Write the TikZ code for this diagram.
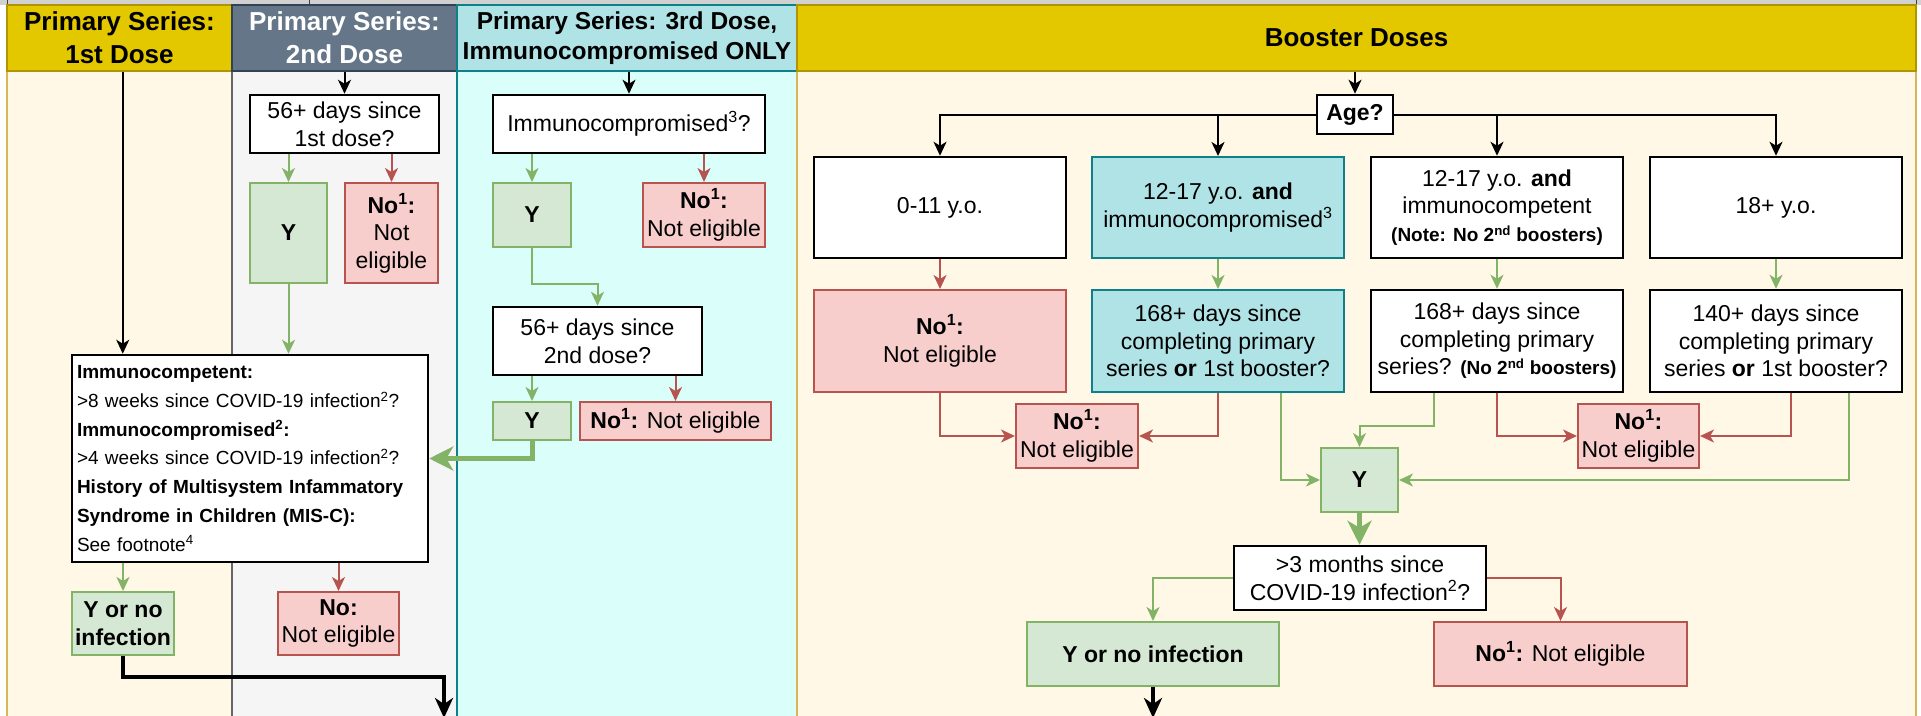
\documentclass[tikz,border=0pt]{standalone}
\usepackage{fontspec}
\setmainfont{Liberation Sans}
\usetikzlibrary{arrows.meta}

\definecolor{hdryel}{HTML}{E3C800}
\definecolor{hdryeld}{HTML}{B09500}
\definecolor{cream}{HTML}{FFF8E7}
\definecolor{creamd}{HTML}{D6B656}
\definecolor{slate}{HTML}{647687}
\definecolor{slated}{HTML}{314354}
\definecolor{greyb}{HTML}{F5F5F5}
\definecolor{teal1}{HTML}{B0E3E6}
\definecolor{teald}{HTML}{0E8088}
\definecolor{cyanb}{HTML}{DAFFFB}
\definecolor{gfill}{HTML}{D5E8D4}
\definecolor{gline}{HTML}{82B366}
\definecolor{rfill}{HTML}{F8CECC}
\definecolor{rline}{HTML}{B85450}
\newcommand\smallnote[1]{{\fontsize{19}{27.6}\selectfont\bfseries #1}}

\begin{document}
\begin{tikzpicture}[x=1pt,y=-1pt,
    every node/.style={inner sep=2pt, align=center, font=\fontsize{23}{27.6}\selectfont},
    sz/.style 2 args={minimum width=#1pt, minimum height=#2pt},
    qbox/.style={draw=black, fill=white, line width=2.5pt},
    ybox/.style={draw=gline, fill=gfill, line width=2pt, font=\fontsize{23}{28}\selectfont\bfseries},
    nbox/.style={draw=rline, fill=rfill, line width=2pt},
    tbox/.style={draw=teald, fill=teal1, line width=2pt},
    hdr/.style={line width=2pt, font=\fontsize{26}{33}\selectfont\bfseries},
    barr/.style={draw=black, line width=2pt, -{Stealth[length=14pt,width=13pt,inset=4pt]}},
    garr/.style={barr, draw=gline},
    rarr/.style={barr, draw=rline},
    gthick/.style={draw=gline, line width=5pt, -{Stealth[length=24pt,width=24pt,inset=7pt]}},
    bthick/.style={draw=black, line width=4pt, -{Stealth[length=20pt,width=18pt,inset=6pt]}}]
    \useasboundingbox (0,0) rectangle (1921,715);
    \fill[white] (0,0) rectangle (1921,715);
    \fill[black!18] (0,0) rectangle (1921,5);
    \draw[black!75, line width=1pt] (7,0) -- (7,5) (309,0) -- (309,5) (1916,0) -- (1916,5);
    % lanes
    \draw[draw=creamd, fill=cream, line width=2pt] (7,71) rectangle (232,740);
    \draw[draw=black!60, fill=greyb, line width=2pt] (232,71) rectangle (457,740);
    \draw[draw=teald, fill=cyanb, line width=2pt] (457,71) rectangle (797,740);
    \draw[draw=creamd, fill=cream, line width=2pt] (797,71) rectangle (1916,740);
    \node[hdr, sz={225}{66}, fill=hdryel, draw=hdryeld] (h1) at (119.5,38) {Primary Series:\\1st Dose};
    \node[hdr, sz={225}{66}, fill=slate, draw=slated, text=white] (h2) at (344.5,38) {Primary Series:\\2nd Dose};
    \node[hdr, sz={340}{66}, fill=teal1, draw=teald, font=\fontsize{24.5}{30}\selectfont\bfseries] (h3) at (627,38) {Primary Series: 3rd Dose,\\Immunocompromised ONLY};
    \node[hdr, sz={1119}{66}, fill=hdryel, draw=hdryeld] (h4) at (1356.5,38) {Booster Doses};

    % primary series
    \node[qbox, sz={356}{207}, text width=346pt, align=left, font=\fontsize{19}{28.7}\selectfont] (chk) at (250,458.5)
        {\textbf{Immunocompetent:}\\
         >8 weeks since COVID-19 infection\textsuperscript{2}?\\
         \textbf{Immunocompromised\textsuperscript{2}:}\\
         >4 weeks since COVID-19 infection\textsuperscript{2}?\\
         \textbf{History of Multisystem Infammatory}\\
         \textbf{Syndrome in Children (MIS-C):}\\
         See footnote\textsuperscript{4}};
    \node[ybox, sz={102}{63}] (yes1) at (123,623.5) {Y or no\\infection};
    \node[nbox, sz={121}{63}] (no2b) at (338.5,623.5) {\textbf{No:}\\Not eligible};
    \node[qbox, sz={189}{58}] (q2) at (344.5,124) {56+ days since\\1st dose?};
    \node[ybox, sz={77}{100}] (y2) at (288.5,233) {Y};
    \node[nbox, sz={93}{100}] (n2) at (391.5,233) {\textbf{No\textsuperscript{1}:}\\Not\\eligible};
    \node[qbox, sz={272}{58}] (q3) at (629,124) {Immunocompromised\textsuperscript{3}?};
    \node[ybox, sz={78}{64}] (y3) at (532,215) {Y};
    \node[nbox, sz={122}{64}] (n3) at (704,215) {\textbf{No\textsuperscript{1}:}\\Not eligible};
    \node[qbox, sz={209}{68}] (q3b) at (597.5,341) {56+ days since\\2nd dose?};
    \node[ybox, sz={78}{38}] (y3b) at (532,421) {Y};
    \node[nbox, sz={191}{38}] (n3b) at (675.5,421) {\textbf{No\textsuperscript{1}:} Not eligible};

    \coordinate (in1) at ([xshift=52pt]chk.north west);
    \draw[barr] (h1.south -| in1) -- (in1);
    \draw[barr] (h2.south) -- (q2.north);
    \draw[garr] (q2.south -| y2.north) -- (y2.north);
    \draw[rarr] (q2.south -| n2.north) -- (n2.north);
    \draw[garr] (y2.south) -- (y2.south |- chk.north);
    \draw[garr] (chk.south -| yes1.north) -- (yes1.north);
    \draw[rarr] (chk.south -| no2b.north) -- (no2b.north);
    \coordinate (out1) at (444,718);
    \draw[bthick] (yes1.south) -- ++(0,21) -| (out1);
    \draw[barr] (h3.south -| q3.north) -- (q3.north);
    \draw[garr] (q3.south -| y3.north) -- (y3.north);
    \draw[rarr] (q3.south -| n3.north) -- (n3.north);
    \draw[garr] (y3.south) -- ++(0,36) -| (q3b.north);
    \draw[garr] (q3b.south -| y3b.north) -- (y3b.north);
    \draw[rarr] (q3b.south -| n3b.north) -- (n3b.north);
    \draw[gthick] (y3b.south) |- (chk.east);

    % boosters
    \node[qbox, sz={76}{39}, font=\fontsize{23}{27.6}\selectfont\bfseries] (age) at (1355,114.5) {Age?};
    \node[qbox, sz={252}{101}] (a1) at (940,207.5) {0-11 y.o.};
    \node[tbox, sz={252}{101}] (b1) at (1218,207.5) {12-17 y.o. \textbf{and}\\immunocompromised\textsuperscript{3}};
    \node[qbox, sz={252}{101}] (c1) at (1497,207.5) {12-17 y.o. \textbf{and}\\immunocompetent\\\smallnote{(Note: No 2\textsuperscript{nd} boosters)}};
    \node[qbox, sz={252}{101}] (d1) at (1776,207.5) {18+ y.o.};
    \node[nbox, sz={252}{102}] (a2) at (940,341) {\textbf{No\textsuperscript{1}:}\\Not eligible};
    \node[tbox, sz={252}{102}] (b2) at (1218,341) {168+ days since\\completing primary\\series \textbf{or} 1st booster?};
    \node[qbox, sz={252}{102}] (c2) at (1497,341) {168+ days since\\completing primary\\series? \smallnote{(No 2\textsuperscript{nd} boosters)}};
    \node[qbox, sz={252}{102}] (d2) at (1776,341) {140+ days since\\completing primary\\series \textbf{or} 1st booster?};
    \node[nbox, sz={122}{64}] (nL) at (1077,436) {\textbf{No\textsuperscript{1}:}\\Not eligible};
    \node[nbox, sz={121}{64}] (nR) at (1638.5,436) {\textbf{No\textsuperscript{1}:}\\Not eligible};
    \node[ybox, sz={77}{64}] (yb) at (1359.5,480) {Y};
    \node[qbox, sz={252}{64}] (q4) at (1360,578) {>3 months since\\COVID-19 infection\textsuperscript{2}?};
    \node[ybox, sz={252}{64}] (yf) at (1153,654) {Y or no infection};
    \node[nbox, sz={253}{64}] (nf) at (1560.5,654) {\textbf{No\textsuperscript{1}:} Not eligible};

    \draw[barr] (h4.south -| age.north) -- (age.north);
    \draw[barr] (age.west) -| (a1.north);
    \draw[barr] (age.west) -| (b1.north);
    \draw[barr] (age.east) -| (c1.north);
    \draw[barr] (age.east) -| (d1.north);
    \draw[rarr] (a1.south) -- (a2.north);
    \draw[garr] (b1.south) -- (b2.north);
    \draw[garr] (c1.south) -- (c2.north);
    \draw[garr] (d1.south) -- (d2.north);
    \draw[rarr] (a2.south) |- (nL.west);
    \draw[rarr] (b2.south) |- (nL.east);
    \draw[garr] ([xshift=63pt]b2.south) |- (yb.west);
    \draw[garr] ([xshift=-63pt]c2.south) -- ++(0,33) -| (yb.north);
    \draw[rarr] (c2.south) |- (nR.west);
    \draw[rarr] ([xshift=15pt]d2.south) |- (nR.east);
    \draw[garr] ([xshift=73pt]d2.south) |- (yb.east);
    \draw[gthick] (yb.south) -- (yb.south |- q4.north);
    \draw[garr] (q4.west) -| (yf.north);
    \draw[rarr] (q4.east) -| (nf.north);
    \coordinate (out4) at (1153,718);
    \draw[bthick] (yf.south) -- (out4);
\end{tikzpicture}
\end{document}
